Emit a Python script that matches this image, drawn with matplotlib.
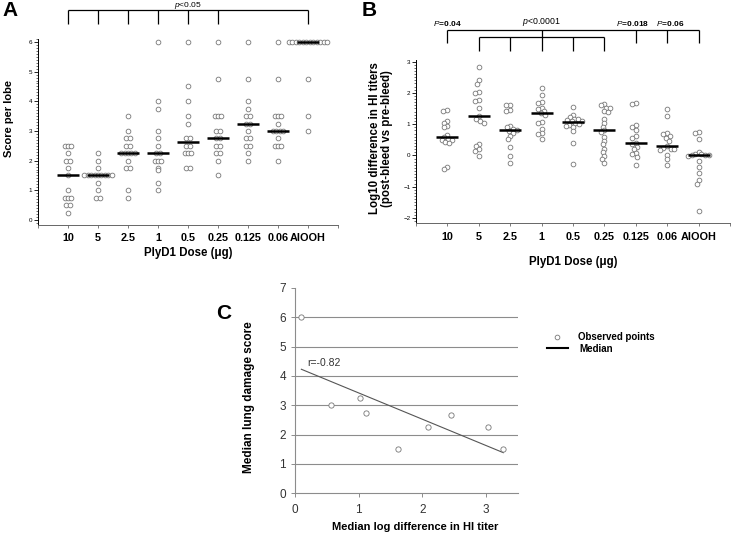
import numpy as np
import matplotlib
matplotlib.use('Agg')
import matplotlib.pyplot as plt
import matplotlib.transforms as mtransforms
from matplotlib.lines import Line2D
from matplotlib.ticker import MultipleLocator

plt.rcParams['font.family'] = 'Liberation Sans'
plt.rcParams['mathtext.fontset'] = 'custom'
plt.rcParams['mathtext.it'] = 'Liberation Sans:italic'
plt.rcParams['mathtext.rm'] = 'Liberation Sans'

# dose groups (x categories of panels A and B)
doses = ['10', '5', '2.5', '1', '0.5', '0.25', '0.125', '0.06', 'AlOOH']

# panel A: lung damage score per lobe
score_10 = [2.5, 2.5, 2.5, 2.25, 2.0, 2.0, 1.75, 1.5, 1.0, 0.75, 0.75, 0.75, 0.5, 0.5, 0.25]
score_5 = [2.25, 2.0, 1.75, 1.5, 1.5, 1.5, 1.5, 1.5, 1.5, 1.5, 1.5, 1.5, 1.25, 1.0, 0.75, 0.75]
score_2_5 = [3.5, 3.0, 2.75, 2.75, 2.5, 2.5, 2.25, 2.25, 2.25, 2.25, 2.25, 2.0, 1.75, 1.75, 1.0, 0.75]
score_1 = [6.0, 4.0, 3.75, 3.0, 2.75, 2.5, 2.25, 2.25, 2.0, 2.0, 2.0, 1.75, 1.67, 1.25, 1.0]
score_0_5 = [6.0, 4.5, 4.0, 3.5, 3.25, 2.75, 2.75, 2.5, 2.5, 2.25, 2.25, 2.25, 1.75, 1.75]
score_0_25 = [6.0, 4.75, 3.5, 3.5, 3.5, 3.0, 3.0, 2.75, 2.75, 2.5, 2.5, 2.25, 2.25, 2.0, 1.5]
score_0_125 = [6.0, 4.75, 4.0, 3.75, 3.5, 3.5, 3.25, 3.25, 3.0, 2.75, 2.75, 2.5, 2.5, 2.25, 2.0]
score_0_06 = [6.0, 4.75, 3.5, 3.5, 3.5, 3.25, 3.0, 3.0, 3.0, 3.0, 2.75, 2.5, 2.5, 2.5, 2.0]
score_alooh = [6.0, 6.0, 6.0, 6.0, 6.0, 6.0, 6.0, 6.0, 6.0, 6.0, 6.0, 6.0, 4.75, 3.5, 3.0]

# panel B: log10 difference in HI titers
hi_10 = [1.45, 1.43, 1.1, 1.05, 0.95, 0.9, 0.65, 0.58, 0.52, 0.5, 0.48, 0.42, 0.4, -0.36, -0.43]
hi_5 = [2.83, 2.4, 2.28, 2.03, 2.0, 1.78, 1.74, 1.52, 1.25, 1.15, 1.1, 1.05, 0.38, 0.3, 0.2, 0.13, -0.02]
hi_2_5 = [1.62, 1.6, 1.45, 1.42, 0.95, 0.9, 0.85, 0.82, 0.78, 0.72, 0.62, 0.52, 0.28, -0.02, -0.25]
hi_1 = [2.15, 1.93, 1.7, 1.68, 1.52, 1.47, 1.42, 1.36, 1.3, 1.08, 1.05, 0.85, 0.72, 0.68, 0.52]
hi_0_5 = [1.55, 1.3, 1.22, 1.18, 1.15, 1.13, 1.11, 1.09, 1.05, 1.02, 0.98, 0.95, 0.92, 0.77, 0.4, -0.26]
hi_0_25 = [1.64, 1.6, 1.53, 1.5, 1.43, 1.4, 1.18, 1.04, 0.92, 0.8, 0.75, 0.6, 0.47, 0.35, 0.22, 0.1,
           -0.02, -0.13, -0.25]
hi_0_125 = [1.68, 1.63, 0.97, 0.92, 0.82, 0.62, 0.55, 0.4, 0.35, 0.28, 0.2, 0.08, 0.04, -0.04, -0.3]
hi_0_06 = [1.47, 1.27, 0.72, 0.7, 0.62, 0.55, 0.45, 0.29, 0.25, 0.22, 0.2, 0.17, 0.02, -0.12, -0.32]
hi_alooh = [0.75, 0.72, 0.52, 0.12, 0.05, 0.03, 0.02, 0.0, 0.0, -0.02, -0.18, -0.38, -0.55, -0.78, -0.9, -1.78]

# panel C: group medians
hi_median = [0.1, 0.57, 1.02, 1.12, 1.62, 2.09, 2.45, 3.03, 3.27]
lung_median = [6.0, 3.0, 3.25, 2.75, 1.5, 2.25, 2.67, 2.25, 1.5]

scores = [score_10, score_5, score_2_5, score_1, score_0_5, score_0_25, score_0_125, score_0_06, score_alooh]
titers = [hi_10, hi_5, hi_2_5, hi_1, hi_0_5, hi_0_25, hi_0_125, hi_0_06, hi_alooh]

W, H = 733, 535


def box(l, t, r, b):
    return [l / W, 1 - b / H, (r - l) / W, (b - t) / H]


def row_offsets(vals, step):
    # points with the same value sit in a centred row
    totals = {}
    for v in vals:
        totals[v] = totals.get(v, 0) + 1
    seen = {}
    offs = []
    for v in vals:
        i = seen.get(v, 0)
        seen[v] = i + 1
        offs.append((i - (totals[v] - 1) / 2) * step)
    return np.array(offs)


def swarm_offsets(vals, d, ypx, xunit):
    # simple beeswarm in pixel space
    placed = []
    offs = []
    for v in vals:
        y = v * ypx
        cands = [0.0]
        spans = []
        for px, py in placed:
            dy = y - py
            if abs(dy) < d:
                w = np.sqrt(d * d - dy * dy)
                spans.append((px - w, px + w))
                cands += [px - w, px + w]
        cands.sort(key=abs)
        for c in cands:
            if all(not (a + 1e-6 < c < b - 1e-6) for a, b in spans):
                break
        placed.append((c, y))
        offs.append(c * xunit)
    return np.array(offs)


mk = dict(ls='none', marker='o', ms=3.4, mfc='white', mec='#777777', mew=0.6, zorder=2)

fig = plt.figure(figsize=(7.33, 5.35), dpi=100)

# ---------- panel A ----------
axA = fig.add_axes(box(38, 39, 338, 225))
for i, vals in enumerate(scores):
    pos = i + 1
    axA.plot(pos + row_offsets(vals, 0.115), vals, **mk)
    axA.hlines(np.median(vals), pos - 0.38, pos + 0.38, color='black', lw=1.8, zorder=3)

# ---------- panel B ----------
axB = fig.add_axes(box(416, 60, 730, 223.3))
for i, vals in enumerate(titers):
    pos = i + 1
    axB.plot(pos + swarm_offsets(vals, 4.0, 31.3, 10 / 314), vals, **mk)
    axB.hlines(np.median(vals), pos - 0.35, pos + 0.35, color='black', lw=1.8, zorder=3)

for ax in (axA, axB):
    ax.set_xlim(0, 10)
    ax.set_xticks(range(11))
    ax.set_xticklabels([''] + doses + [''], fontsize=7.8, fontweight='bold')
    ax.spines['top'].set_visible(False)
    ax.spines['right'].set_visible(False)
    ax.spines['left'].set_linewidth(0.7)
    ax.spines['bottom'].set_linewidth(0.7)
    ax.spines['bottom'].set_color('#666666')
    ax.yaxis.set_minor_locator(MultipleLocator(0.1))
    ax.tick_params(axis='y', which='major', length=3, width=0.6, labelsize=4.5, pad=1)
    ax.tick_params(axis='y', which='minor', length=1.3, width=0.4)
    ax.tick_params(axis='x', length=2.5, width=0.6, color='#666666', pad=3.5)
    ax.set_xlabel('PlyD1 Dose (\u03bcg)', fontsize=8.3, fontweight='bold')

axA.set_ylim(-0.17, 6.1)
axA.set_yticks(range(7))
axA.xaxis.labelpad = 3
axA.set_ylabel('Score per lobe', fontsize=8, fontweight='bold')
axA.yaxis.set_label_coords(-0.08, 0.57)

axB.set_ylim(-2.17, 3.05)
axB.set_yticks(range(-2, 4))
axB.xaxis.labelpad = 10
axB.set_ylabel('Log10 difference in HI titers\n(post-bleed vs pre-bleed)', fontsize=8.3,
               fontweight='bold', linespacing=1.0)
axB.yaxis.set_label_coords(-0.073, 0.52)

# significance brackets
trA = mtransforms.blended_transform_factory(axA.transData, axA.transAxes)
bk = dict(color='black', lw=0.9, clip_on=False, solid_capstyle='butt')
axA.plot([1, 9], [1.156, 1.156], transform=trA, **bk)
for x in [1, 2, 3, 4, 5, 6, 9]:
    axA.plot([x, x], [1.156, 1.081], transform=trA, **bk)
axA.text(5, 1.182, r'$\mathit{p}$<0.05', transform=trA, ha='center', va='center', fontsize=6)

trB = mtransforms.blended_transform_factory(axB.transData, axB.transAxes)
axB.plot([1, 9], [1.184, 1.184], transform=trB, **bk)
for x in [1, 7, 8, 9]:
    axB.plot([x, x], [1.184, 1.102], transform=trB, **bk)
axB.plot([4, 4], [1.184, 1.057], transform=trB, **bk)
axB.plot([2, 6], [1.139, 1.139], transform=trB, **bk)
for x in [2, 3, 5, 6]:
    axB.plot([x, x], [1.139, 1.057], transform=trB, **bk)
axB.text(1, 1.197, r'$\mathit{P}$=0.04', transform=trB, ha='center', va='bottom', fontsize=6, fontweight='bold')
axB.text(4, 1.197, r'$\mathit{p}$<0.0001', transform=trB, ha='center', va='bottom', fontsize=6.3)
axB.text(6.9, 1.197, r'$\mathit{P}$=0.018', transform=trB, ha='center', va='bottom', fontsize=6, fontweight='bold')
axB.text(8.1, 1.197, r'$\mathit{P}$=0.06', transform=trB, ha='center', va='bottom', fontsize=6, fontweight='bold')

# ---------- panel C ----------
axC = fig.add_axes(box(295, 288, 518, 493.3))
axC.set_xlim(0, 3.5)
axC.set_ylim(0, 7)
axC.hlines(range(1, 7), 0, 3.5, color='#8c8c8c', lw=0.8, zorder=1)
axC.plot(hi_median, lung_median, ls='none', marker='o', ms=3.8, mfc='white', mec='#777777', mew=0.6, zorder=3)
slope, icpt = np.polyfit(hi_median, lung_median, 1)
xs = np.array([min(hi_median), max(hi_median)])
axC.plot(xs, slope * xs + icpt, color='#555555', lw=0.8, zorder=2)
axC.text(0.2, 4.45, 'r=-0.82', fontsize=7.5, color='#333333', va='center', ha='left')
axC.set_xticks([0, 1, 2, 3])
axC.set_yticks(range(8))
for s in ['top', 'right']:
    axC.spines[s].set_visible(False)
for s in ['left', 'bottom']:
    axC.spines[s].set_color('#8c8c8c')
    axC.spines[s].set_linewidth(0.8)
axC.tick_params(axis='both', length=3, width=0.7, color='#8c8c8c', labelsize=8.5, labelcolor='#333333')
axC.tick_params(axis='x', pad=5)
axC.set_xlabel('Median log difference in HI titer', fontsize=8, fontweight='bold')
axC.xaxis.set_label_coords(0.54, -0.14)
axC.set_ylabel('Median lung damage score', fontsize=8.5, fontweight='bold')
axC.yaxis.set_label_coords(-0.18, 0.467)

# legend
fig.add_artist(Line2D([557 / W], [1 - 336.7 / H], transform=fig.transFigure, ls='none', marker='o',
                      ms=3.4, mfc='white', mec='#777777', mew=0.6))
fig.add_artist(Line2D([547 / W, 568 / W], [1 - 348 / H, 1 - 348 / H], transform=fig.transFigure,
                      color='black', lw=1.5))
fig.text(577.7 / W, 1 - 337 / H, 'Observed points', fontsize=7, fontweight='bold', va='center')
fig.text(579 / W, 1 - 348.5 / H, 'Median', fontsize=7, fontweight='bold', va='center')

# panel letters
fig.text(2 / W, 1 - 1 / H, 'A', fontsize=15, fontweight='bold', va='top', ha='left')
fig.text(362 / W, 1 - 1 / H, 'B', fontsize=15, fontweight='bold', va='top', ha='left')
fig.text(216 / W, 1 - 304 / H, 'C', fontsize=15, fontweight='bold', va='top', ha='left')

fig.savefig('out.png', dpi=100)
